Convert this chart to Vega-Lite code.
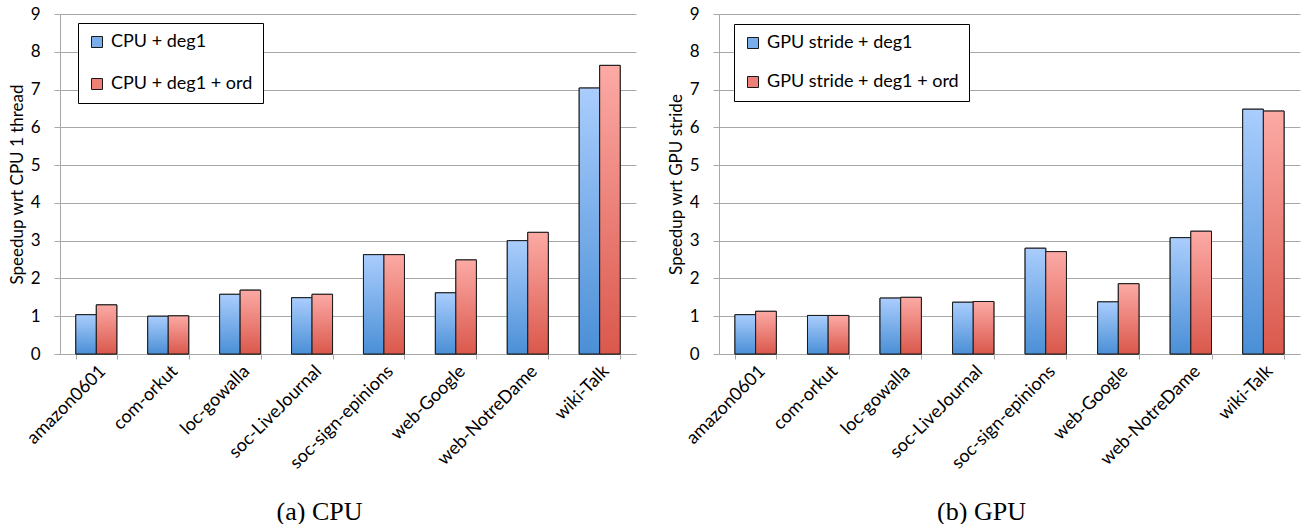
{
  "$schema": "https://vega.github.io/schema/vega-lite/v6.json",
  "padding": {"left": 8, "top": 5, "right": 10, "bottom": 0},
  "background": "white",
  "config": {
    "view": {"stroke": null},
    "font": "Lato",
    "axis": {"labelFont": "Lato", "titleFont": "Lato", "labelColor": "black", "titleColor": "black", "titleFontWeight": "normal", "domainColor": "#a8a8a8", "tickColor": "#a8a8a8", "gridColor": "#a8a8a8"},
    "legend": {"labelFont": "Lato", "labelColor": "black", "labelLimit": 400}
  },
  "datasets": {
    "cpu": [
      {"graph": "amazon0601", "series": "CPU + deg1", "speedup": 1.04},
      {"graph": "amazon0601", "series": "CPU + deg1 + ord", "speedup": 1.30},
      {"graph": "com-orkut", "series": "CPU + deg1", "speedup": 1.00},
      {"graph": "com-orkut", "series": "CPU + deg1 + ord", "speedup": 1.01},
      {"graph": "loc-gowalla", "series": "CPU + deg1", "speedup": 1.58},
      {"graph": "loc-gowalla", "series": "CPU + deg1 + ord", "speedup": 1.69},
      {"graph": "soc-LiveJournal", "series": "CPU + deg1", "speedup": 1.49},
      {"graph": "soc-LiveJournal", "series": "CPU + deg1 + ord", "speedup": 1.58},
      {"graph": "soc-sign-epinions", "series": "CPU + deg1", "speedup": 2.63},
      {"graph": "soc-sign-epinions", "series": "CPU + deg1 + ord", "speedup": 2.63},
      {"graph": "web-Google", "series": "CPU + deg1", "speedup": 1.62},
      {"graph": "web-Google", "series": "CPU + deg1 + ord", "speedup": 2.49},
      {"graph": "web-NotreDame", "series": "CPU + deg1", "speedup": 3.00},
      {"graph": "web-NotreDame", "series": "CPU + deg1 + ord", "speedup": 3.22},
      {"graph": "wiki-Talk", "series": "CPU + deg1", "speedup": 7.04},
      {"graph": "wiki-Talk", "series": "CPU + deg1 + ord", "speedup": 7.64}
    ],
    "gpu": [
      {"graph": "amazon0601", "series": "GPU stride + deg1", "speedup": 1.04},
      {"graph": "amazon0601", "series": "GPU stride + deg1 + ord", "speedup": 1.13},
      {"graph": "com-orkut", "series": "GPU stride + deg1", "speedup": 1.02},
      {"graph": "com-orkut", "series": "GPU stride + deg1 + ord", "speedup": 1.02},
      {"graph": "loc-gowalla", "series": "GPU stride + deg1", "speedup": 1.48},
      {"graph": "loc-gowalla", "series": "GPU stride + deg1 + ord", "speedup": 1.50},
      {"graph": "soc-LiveJournal", "series": "GPU stride + deg1", "speedup": 1.37},
      {"graph": "soc-LiveJournal", "series": "GPU stride + deg1 + ord", "speedup": 1.39},
      {"graph": "soc-sign-epinions", "series": "GPU stride + deg1", "speedup": 2.80},
      {"graph": "soc-sign-epinions", "series": "GPU stride + deg1 + ord", "speedup": 2.71},
      {"graph": "web-Google", "series": "GPU stride + deg1", "speedup": 1.38},
      {"graph": "web-Google", "series": "GPU stride + deg1 + ord", "speedup": 1.86},
      {"graph": "web-NotreDame", "series": "GPU stride + deg1", "speedup": 3.08},
      {"graph": "web-NotreDame", "series": "GPU stride + deg1 + ord", "speedup": 3.25},
      {"graph": "wiki-Talk", "series": "GPU stride + deg1", "speedup": 6.48},
      {"graph": "wiki-Talk", "series": "GPU stride + deg1 + ord", "speedup": 6.43}
    ]
  },
  "resolve": {"scale": {"fill": "independent", "x": "independent", "y": "independent", "xOffset": "independent"}, "legend": {"fill": "independent"}},
  "spacing": 31,
  "hconcat": [
    {
      "width": 576,
      "height": 340,
      "data": {"name": "cpu"},
      "encoding": {
        "x": {"field": "graph", "type": "nominal", "sort": null, "scale": {"paddingInner": 0.43, "paddingOuter": 0.22},
          "axis": {"labelAngle": -45, "labelFontSize": 18, "labelPadding": 3, "tickBand": "extent", "tickSize": 5, "grid": false,
            "title": "(a) CPU", "titleFont": "Liberation Serif", "titleFontSize": 26, "titleX": 259, "titleY": 165, "titleBaseline": "alphabetic", "titleAlign": "center"}},
        "xOffset": {"field": "series", "sort": null},
        "y": {"field": "speedup", "type": "quantitative", "scale": {"domain": [0, 9]},
          "axis": {"values": [0,1,2,3,4,5,6,7,8,9], "grid": true, "tickSize": 6, "labelFontSize": 17, "labelPadding": 14, "title": "Speedup wrt CPU 1 thread", "titleFontSize": 17, "titlePadding": 4}}
      },
      "layer": [
        {
          "mark": {"type": "bar", "stroke": "#1a1a1a", "strokeWidth": 1},
          "encoding": {
            "fill": {"field": "series", "type": "nominal", "sort": null, "scale": {"range": ["#78aeea", "#ee8078"]},
              "legend": {"orient": "none", "legendX": 18, "legendY": 9, "title": null, "strokeColor": "black", "fillColor": "white", "padding": 10, "rowPadding": 24, "symbolType": "square", "symbolSize": 121, "symbolStrokeColor": "#1a1a1a", "symbolStrokeWidth": 1, "labelFontSize": 18, "labelOffset": 5}}
          }
        },
        {
          "mark": {"type": "bar", "stroke": "#1a1a1a", "strokeWidth": 1},
          "encoding": {
            "fill": {
              "condition": {"test": "datum.series === 'CPU + deg1'", "value": {"gradient": "linear", "x1": 0, "y1": 0, "x2": 0, "y2": 1, "stops": [{"offset": 0, "color": "#aacdfd"}, {"offset": 1, "color": "#4a8fd6"}]}},
              "value": {"gradient": "linear", "x1": 0, "y1": 0, "x2": 0, "y2": 1, "stops": [{"offset": 0, "color": "#fcaaa5"}, {"offset": 1, "color": "#da584c"}]}
            }
          }
        }
      ]
    },
    {
      "width": 581,
      "height": 340,
      "data": {"name": "gpu"},
      "encoding": {
        "x": {"field": "graph", "type": "nominal", "sort": null, "scale": {"paddingInner": 0.43, "paddingOuter": 0.22},
          "axis": {"labelAngle": -45, "labelFontSize": 18, "labelPadding": 3, "tickBand": "extent", "tickSize": 5, "grid": false,
            "title": "(b) GPU", "titleFont": "Liberation Serif", "titleFontSize": 26, "titleX": 262, "titleY": 165, "titleBaseline": "alphabetic", "titleAlign": "center"}},
        "xOffset": {"field": "series", "sort": null},
        "y": {"field": "speedup", "type": "quantitative", "scale": {"domain": [0, 9]},
          "axis": {"values": [0,1,2,3,4,5,6,7,8,9], "grid": true, "tickSize": 6, "labelFontSize": 17, "labelPadding": 14, "title": "Speedup wrt GPU stride", "titleFontSize": 17, "titlePadding": 4}}
      },
      "layer": [
        {
          "mark": {"type": "bar", "stroke": "#1a1a1a", "strokeWidth": 1},
          "encoding": {
            "fill": {"field": "series", "type": "nominal", "sort": null, "scale": {"range": ["#78aeea", "#ee8078"]},
              "legend": {"orient": "none", "legendX": 15, "legendY": 10, "title": null, "strokeColor": "black", "fillColor": "white", "padding": 10, "rowPadding": 21, "symbolType": "square", "symbolSize": 121, "symbolStrokeColor": "#1a1a1a", "symbolStrokeWidth": 1, "labelFontSize": 18, "labelOffset": 5}}
          }
        },
        {
          "mark": {"type": "bar", "stroke": "#1a1a1a", "strokeWidth": 1},
          "encoding": {
            "fill": {
              "condition": {"test": "datum.series === 'GPU stride + deg1'", "value": {"gradient": "linear", "x1": 0, "y1": 0, "x2": 0, "y2": 1, "stops": [{"offset": 0, "color": "#aacdfd"}, {"offset": 1, "color": "#4a8fd6"}]}},
              "value": {"gradient": "linear", "x1": 0, "y1": 0, "x2": 0, "y2": 1, "stops": [{"offset": 0, "color": "#fcaaa5"}, {"offset": 1, "color": "#da584c"}]}
            }
          }
        }
      ]
    }
  ]
}
